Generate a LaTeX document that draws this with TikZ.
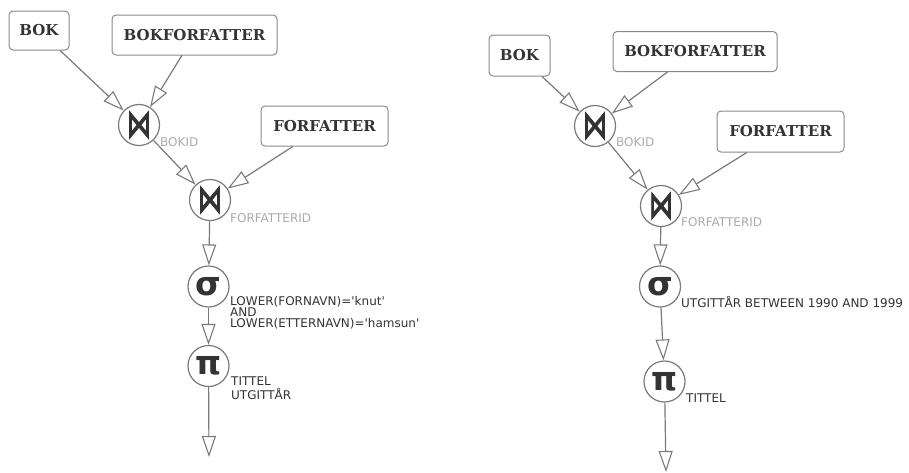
\documentclass[tikz,border=0pt]{standalone}
\usepackage{fontspec}
\usepackage{graphicx}
\usetikzlibrary{arrows.meta}
\setmainfont{DejaVu Sans}[Ligatures=TeXOff]
\newfontfamily\boxfont{DejaVu Serif}
\newfontfamily\opfont{DejaVu Sans}
\newfontfamily\joinfont{DejaVu Sans}[FakeBold=2.5]
\definecolor{linegray}{HTML}{7A7A7A}
\definecolor{boxgray}{HTML}{8A8A8A}
\definecolor{textdark}{HTML}{333333}
\definecolor{labelgray}{HTML}{AAAAAA}
\tikzset{
  relbox/.style={draw=boxgray, line width=1pt, rounded corners=4pt, fill=white,
    inner sep=0pt, text=textdark, font=\boxfont\bfseries\fontsize{15}{16}\selectfont,
    text height=10.6pt, text depth=-2.5pt},
  opnode/.style={circle, draw=linegray, line width=1.2pt, fill=white, inner sep=0pt,
    minimum size=41pt, text=textdark},
  conn/.style={draw=linegray, line width=1.2pt,
    -{Triangle[open, length=21pt, width=14pt, line width=1.1pt]}},
  joinlabel/.style={anchor=base west, inner sep=0pt, text=labelgray,
    font=\fontsize{12}{12}\selectfont},
  oplabel/.style={anchor=base west, inner sep=0pt, text=textdark, align=left,
    font=\fontsize{12}{10.6}\selectfont},
}
\newcommand{\joinsym}{\scalebox{0.8}[1.32]{\joinfont\fontsize{30}{30}\selectfont ⋈}}
\newcommand{\selsym}{{\opfont\bfseries\fontsize{33}{33}\selectfont σ}}
\newcommand{\projsym}{{\opfont\bfseries\fontsize{33}{33}\selectfont π}}
\begin{document}
\begin{tikzpicture}[x=1pt, y=-1pt]
\useasboundingbox (0,0) rectangle (909,472);
% ---------- left tree ----------
\node[relbox, minimum width=60pt, minimum height=39pt] (bokA) at (39,30.5) {BOK};
\node[relbox, minimum width=165pt, minimum height=40pt] (bfA) at (194.5,35) {BOKFORFATTER};
\node[relbox, minimum width=127pt, minimum height=40pt] (fA) at (324.5,126) {FORFATTER};
\node[opnode] (j1A) at (139,125) {\joinsym};
\node[opnode] (j2A) at (210,200) {\joinsym};
\node[opnode] (sA) at (208.5,286.5) {\selsym};
\node[opnode] (pA) at (208.5,366) {\projsym};
\coordinate (outA) at (209,457);
\node[joinlabel] (l1A) at (160,146) {BOKID};
\node[joinlabel] (l2A) at (230,222) {FORFATTERID};
\node[oplabel] (lsA) at (230,327) {LOWER(FORNAVN)='knut'\\AND\\LOWER(ETTERNAVN)='hamsun'};
\node[oplabel] (lpA) at (231,399) {TITTEL\\[1.8pt]UTGITTÅR};
\draw[conn] (bokA) -- (j1A);
\draw[conn] (bfA) -- (j1A);
\draw[conn] (j1A) -- (j2A);
\draw[conn] (fA) -- (j2A);
\draw[conn] (j2A) -- (sA);
\draw[conn] (sA) -- (pA);
\draw[conn] (pA) -- (outA);
% ---------- right tree ----------
\node[relbox, minimum width=61pt, minimum height=41pt] (bokB) at (519.5,55.5) {BOK};
\node[relbox, minimum width=164pt, minimum height=40pt] (bfB) at (695,51.5) {BOKFORFATTER};
\node[relbox, minimum width=127pt, minimum height=41pt] (fB) at (780.5,131.5) {FORFATTER};
\node[opnode] (j1B) at (595,126) {\joinsym};
\node[opnode] (j2B) at (661,206) {\joinsym};
\node[opnode] (sB) at (660,286.5) {\selsym};
\node[opnode] (pB) at (664.5,381.5) {\projsym};
\coordinate (outB) at (666,472);
\node[joinlabel] (l1B) at (616,146) {BOKID};
\node[joinlabel] (l2B) at (681,226) {FORFATTERID};
\node[oplabel] (lsB) at (681,307) {UTGITTÅR BETWEEN 1990 AND 1999};
\node[oplabel] (lpB) at (686,402) {TITTEL};
\draw[conn] (bokB) -- (j1B);
\draw[conn] (bfB) -- (j1B);
\draw[conn] (j1B) -- (j2B);
\draw[conn] (fB) -- (j2B);
\draw[conn] (j2B) -- (sB);
\draw[conn] (sB) -- (pB);
\draw[conn] (pB) -- (outB);
\end{tikzpicture}
\end{document}
